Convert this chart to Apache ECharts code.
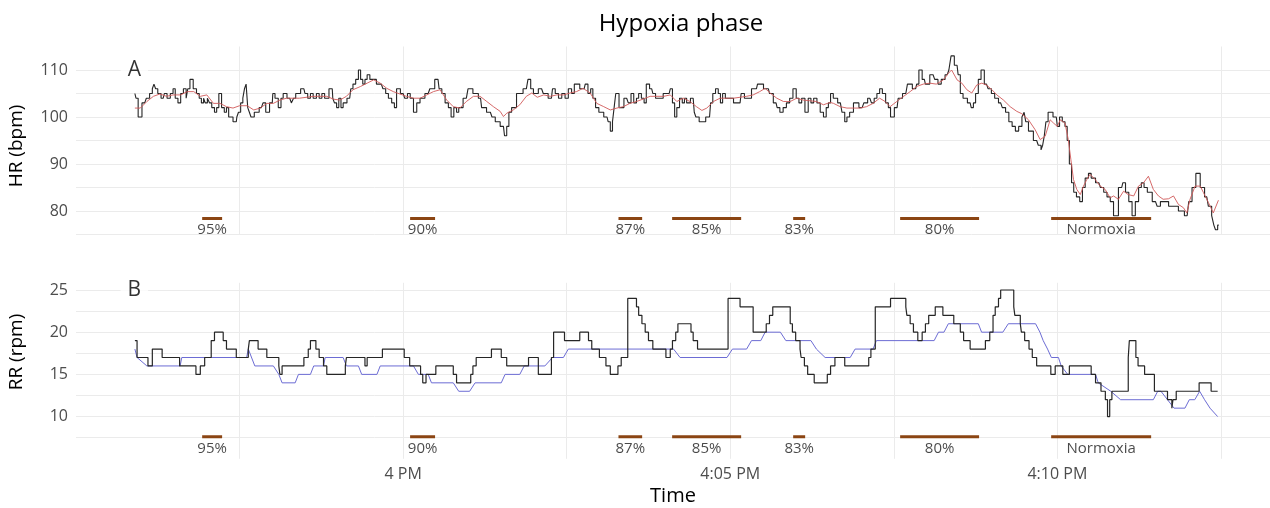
<!DOCTYPE html>
<html><head><meta charset="utf-8">
<script src="https://cdn.jsdelivr.net/npm/echarts@6/dist/echarts.min.js"></script>
<style>html,body{margin:0;padding:0;background:#fff}#c{width:1270px;height:508px}</style>
</head><body><div id="c"></div>
<script>
// time = seconds relative to 4:00 PM
const xTickValues = [0, 300, 600];
const xTickLabels = ['4 PM', '4:05 PM', '4:10 PM'];

const hrRaw = [[-246,105],[-244,104],[-242,100],[-237,103],[-234,104],[-231,105],[-229,106],[-228,107],[-226,106],[-224,105],[-220,104],[-218,105],[-215,104],[-212,105],[-210,106],[-208,104],[-205,103],[-203,105],[-200,106],[-198,104],[-197,106],[-194,108],[-191,106],[-188,105],[-186,104],[-184,103],[-182,104],[-181,103],[-178,104],[-177,103],[-174,102],[-172,101],[-170,102],[-168,105],[-165,102],[-163,101],[-161,102],[-159,100],[-153,99],[-152,100],[-150,101],[-148,103],[-146,104],[-145,106],[-143,107],[-142,102],[-140,101],[-139,100],[-134,101],[-130,102],[-127,103],[-125,101],[-120,103],[-119,105],[-116,104],[-113,102],[-111,104],[-109,105],[-104,104],[-101,103],[-100,104],[-97,105],[-91,106],[-89,105],[-86,104],[-84,105],[-81,104],[-78,105],[-76,104],[-73,105],[-71,104],[-65,106],[-64,104],[-62,103],[-60,102],[-58,104],[-56,102],[-54,103],[-49,104],[-47,106],[-45,107],[-42,108],[-40,110],[-38,108],[-36,107],[-34,108],[-32,109],[-29,108],[-20,107],[-17,106],[-15,105],[-12,104],[-9,103],[-7,102],[-5,106],
[0,105],[3,104],[5,105],[8,104],[11,101],[14,103],[17,104],[23,105],[26,106],[32,108],[34,106],[37,105],[40,103],[43,102],[45,100],[48,102],[50,101],[52,102],[58,104],[61,106],[67,105],[71,104],[73,102],[80,101],[83,100],[86,99],[92,98],[94,96],[96,98],[98,101],[101,102],[107,105],[113,106],[116,108],[118,106],[121,105],[127,106],[130,105],[136,104],[138,106],[141,105],[144,104],[147,105],[150,104],[153,106],[156,105],[158,107],[166,106],[168,107],[171,105],[173,106],[175,104],[178,102],[181,101],[187,100],[189,99],[191,97],[193,99],[194,102],[196,105],[200,102],[205,104],[208,103],[210,105],[213,103],[215,104],[217,105],[220,104],[222,103],[224,107],[228,106],[230,105],[233,104],[244,105],[246,106],[248,103],[250,100],[252,102],[255,104],[257,103],[259,104],[261,103],[266,104],[268,101],[269,100],[274,99],[281,100],[283,103],[285,105],[288,106],[290,105],[292,103],[294,105],[297,104],[309,103],[311,105],[315,104],[324,106],[326,107],[335,106],[337,105],[342,103],[344,102],[347,101],[350,102],[353,103],[356,104],[359,106],[362,104],[364,103],[367,104],[370,101],[373,104],[375,103],[378,104],[381,103],[384,101],[387,100],[389,102],[391,103],
[393,105],[396,104],[401,103],[404,101],[406,99],[408,100],[411,101],[415,103],[421,102],[424,103],[428,104],[431,103],[433,104],[436,105],[438,106],[441,105],[444,103],[446,102],[448,100],[453,102],[455,104],[461,105],[464,107],[470,106],[472,107],[474,110],[478,108],[480,107],[486,109],[489,108],[492,107],[495,108],[499,109],[502,110],[503,113],[508,111],[510,109],[512,105],[515,104],[520,103],[522,102],[524,103],[526,105],[529,108],[531,110],[535,107],[538,106],[541,105],[544,104],[548,103],[551,102],[554,101],[557,99],[560,98],[563,97],[566,98],[569,100],[570,101],[572,99],[575,97],[581,95],[584,94],[586,93],[587,94],[589,96],[590,99],[593,101],[599,100],[601,98],[603,100],[606,99],[608,98],[610,95],[612,90],[614,86],[616,84],[619,83],[622,82],[624,85],[627,87],[630,88],[632,87],[638,86],[641,85],[644,84],[647,83],[650,82],[653,79],[659,85],[661,86],[664,84],[667,82],[670,79],[673,82],[676,85],[678,86],[681,85],[684,84],[690,82],[693,81],[696,82],[708,81],[714,80],[719,79],[722,82],[725,85],[729,88],[733,85],[737,83],[740,81],[743,79],[744,77],[746,76],[748,77]];

const hrSmooth = [[-246,101.9],[-241,101.9],[-235,103.3],[-229,104.4],[-223,104.9],[-217,104.4],[-211,104.7],[-204,104.7],[-198,105.4],[-192,105.4],[-186,104.4],[-180,104.7],[-174,102.9],[-168,102.9],[-162,102.2],[-156,101.9],[-150,102.4],[-143,102.4],[-137,101.5],[-131,101.9],[-125,102.9],[-119,102.9],[-113,103.6],[-107,104],[-95,104],[-82,104.4],[-70,104.4],[-64,103.8],[-58,103.6],[-52,104.4],[-46,105.8],[-39,106.5],[-33,107.2],[-27,107.9],[-21,107.2],[-15,106.1],[-9,105.4],[-3,104.9],[3,104.4],[9.5,104],[15.6,104],[21.7,104.7],[27.8,105.4],[33.9,105.8],[40,103.6],[46,102.2],[52,101.9],[58,103.3],[64.5,104.4],[70.6,104.4],[76.7,103.3],[82.8,102.2],[89,101.2],[92,100.1],[95,100.8],[101,101.5],[107,102.6],[113,104.4],[118,105.1],[123,104.2],[129,104.7],[135,104.4],[141,104.7],[147,104.7],[153,105.1],[159,105.4],[165,106.1],[171.5,105.1],[177.6,102.9],[184,102.2],[190,101.5],[196,101.9],[202,102.2],[208,102.9],[214,103.3],[220,103.8],[226.5,104.4],[239,104.4],[245,104.7],[251,103.3],[257,104],[263,103.3],[269,102.2],[274,101.4],[278.5,101.9],[284.6,103.3],[290.7,104],[303,104],[315,104.4],[321,104.7],[327,105.4],[332,106.1],[336.6,105.1],[342.7,104],[348.8,103.3],[355,103.3],[361,104],[367,103.6],[379,103.3],[385.5,102.6],[391.6,103.1],[394.7,102.9],[400.8,102.2],[407,101.9],[419,101.9],[425,102.2],[431,102.9],[437,104],[442,103.3],[446.6,102.2],[452.7,103.3],[459,104.4],[465,105.4],[471,106.5],[477,107],[483,107.2],[489,107],[495.5,107.9],[500,109.3],[503,110],[508,107.9],[512.4,107.2],[517,105.8],[521.5,105.1],[526,106.8],[530.7,107.2],[535,106.8],[540,105.8],[544.5,104.7],[550.6,103.6],[556.7,102.2],[562.8,101.2],[567.4,100.7],[573.5,99.4],[579.6,97.3],[584.2,95.2],[588.8,95.9],[593.4,99.4],[596.5,98.7],[600,98],[602.6,99.4],[607,98.7],[610,95.2],[612.4,90.9],[614.8,86.7],[617.8,84.6],[621,83.5],[624,85.3],[627,86.7],[630,87.8],[634.7,86.7],[639.3,85.3],[643.8,84.6],[648.4,82.8],[651.5,83.2],[656,82.5],[660.7,84.2],[665,83.5],[670,83.2],[674.4,85.3],[679,86],[683.5,87.4],[688,84.6],[692.7,83.2],[697,82.5],[702,82.6],[706.5,83.2],[711,81.4],[715.6,80.7],[718.7,79.6],[721.7,82.5],[726.3,85.3],[731,85.3],[734,83.9],[738.5,81.8],[743,79.6],[747.7,82.3]];

const rrRaw = [[-246,19],[-244,17],[-234,16],[-230,18],[-221,17],[-205,16],[-190,15],[-186,16],[-182,17],[-176,19],[-173,20],[-165,19],[-162,18],[-153,17],[-142,18],[-141,19],[-133,18],[-125,17],[-114,16],[-113,15],[-111,16],[-91,17],[-87,18],[-85,19],[-80,18],[-77,17],[-73,16],[-70,15],[-53,16],[-52,17],[-35,16],[-33,17],[-19,18],[1,17],[6,16],[16,15],[18,14],[21,15],[30,16],[46,15],[49,14],[62,15],[64,16],[67,17],[81,18],[90,17],[95,16],[115,17],[124,15],[136,17],[138,20],[148,19],[162,20],[170,19],[173,18],[180,17],[186,16],[190,15],[197,16],[200,17],[206,24],[214,23],[216,22],[219,21],[222,20],[225,19],[229,18],[241,17],[245,18],[247,19],[250,20],[252,21],[264,20],[266,19],[270,18],[298,24],[309,23],[321,20],[333,21],[336,22],[339,23],[355,21],[357,20],[360,19],[364,18],[365,17],[368,16],[371,15],[377,14],[389,15],[392,16],[396,17],[405,16],[427,17],[429,18],[433,23],[447,24],[461,23],[462,22],[465,21],[468,20],[472,19],[476,20],[479,21],[482,22],[488,23],[495,22],[505,21],[511,20],[514,19],[520,18],[534,19],[538,20],[541,22],[543,23],[546,24],[548,25],[560,23],[561,22],[566,21],[567,20],[570,19],[574,18],[577,17],[581,16],[594,15],[598,16],[605,15],[611,16],[631,15],[635,14],[640,13],[644,12],[646,10],[648,12],[650,13],[665,17],[666,19],[672,17],[674,16],[680,15],[689,13],[701,12],[705,11],[706,12],[709,13],[730,14],[741,13],[747,13]];

const rrSmooth = [[-246,18],[-244,17],[-235,16],[-204.5,16],[-203,17],[-143.5,17],[-142,18],[-136,16],[-119,16],[-114,15],[-111,14],[-99,14],[-96,15],[-85,15],[-82,16],[-73,16],[-71.5,17],[-55,17],[-52,16],[-41,16],[-38,15],[-24,15],[-21,16],[9.5,16],[14,15],[23,15],[26,14],[46,14],[51,13],[61,13],[66,14],[90,14],[93.5,15],[107,15],[111,16],[130,16],[137,17],[147,17],[151.5,18],[248,18],[254,17],[297,17],[302,18],[315,18],[319.5,19],[328,19],[332,20],[346,20],[351,19],[374,19],[379,18],[387,17],[410,17],[414.5,18],[431,18],[434,19],[487,19],[491,20],[496,20],[500,21],[527.5,21],[530.5,20],[550,20],[555,21],[580,21],[584,20],[587,19],[591,18],[594.5,17],[601,17],[603.5,16],[609.5,15],[635,15],[637.5,14],[649,13],[658,12],[688,12],[692,13],[695,13],[701,12],[707,11],[717,11],[721,12],[726,12],[730.5,13],[735,12],[740,11],[747,10]];

const phaseLabels = ['95%', '90%', '87%', '85%', '83%', '80%', 'Normoxia'];
const phaseStart = [-184.3, 6.4, 197.5, 246.7, 357.7, 455.8, 594.3];
const phaseEnd = [-166, 29.3, 219.2, 310, 368.7, 528.2, 686];
const phaseLevelHR = 78.4;
const phaseLevelRR = 7.6;
const panelLabels = ['A', 'B'];
const panelLabelPos = [[-246.5, 110], [-246.5, 25]];

const FONT = '"Open Sans", "Noto Sans", sans-serif';
const TICK = '#4d4d4d';
const GRID = '#ebebeb';

function xAxisCfg(idx, showLabels) {
  return {
    type: 'value', gridIndex: idx, min: -300, max: 795, interval: 150,
    axisLine: {show: false}, axisTick: {show: false},
    splitLine: {show: true, showMinLine: false, showMaxLine: false, lineStyle: {color: GRID, width: 1}},
    axisLabel: {
      show: showLabels, margin: 8, color: TICK, fontSize: 16, fontFamily: FONT,
      formatter: v => { const i = xTickValues.indexOf(v); return i >= 0 ? xTickLabels[i] : ''; }
    }
  };
}

const series = [];
series.push({type: 'line', xAxisIndex: 0, yAxisIndex: 0, data: hrRaw, step: 'middle', showSymbol: false, silent: true,
  lineStyle: {color: '#262626', width: 1.1}, z: 3});
series.push({type: 'line', xAxisIndex: 0, yAxisIndex: 0, data: hrSmooth, showSymbol: false, silent: true,
  lineStyle: {color: '#d05a5a', width: 1, opacity: 0.9}, z: 4});
series.push({type: 'line', xAxisIndex: 1, yAxisIndex: 1, data: rrSmooth, showSymbol: false, silent: true,
  lineStyle: {color: '#6c6cd4', width: 1}, z: 3});
series.push({type: 'line', xAxisIndex: 1, yAxisIndex: 1, data: rrRaw, step: 'end', showSymbol: false, silent: true,
  lineStyle: {color: '#262626', width: 1.2}, z: 4});

[[0, phaseLevelHR], [1, phaseLevelRR]].forEach(([p, lvl]) => {
  phaseLabels.forEach((lab, i) => {
    series.push({type: 'line', xAxisIndex: p, yAxisIndex: p, showSymbol: false, silent: true,
      data: [[phaseStart[i], lvl], [phaseEnd[i], lvl]],
      lineStyle: {color: '#8b4513', width: 3, cap: 'butt'}, z: 5});
  });
  series.push({type: 'scatter', xAxisIndex: p, yAxisIndex: p, symbolSize: 0, silent: true, z: 6,
    data: phaseLabels.map((lab, i) => ({value: [(phaseStart[i] + phaseEnd[i]) / 2, lvl], name: lab})),
    label: {show: true, position: 'bottom', distance: 4, formatter: q => q.name,
      fontSize: 15, fontFamily: FONT, color: '#1a1a1a'}});
  series.push({type: 'scatter', xAxisIndex: p, yAxisIndex: p, symbolSize: 0, silent: true, z: 7,
    data: [{value: panelLabelPos[p], name: panelLabels[p]}],
    label: {show: true, position: 'inside', formatter: q => q.name, fontSize: 21, fontFamily: FONT,
      color: '#000', backgroundColor: '#fff', padding: [2, 7]}});
});

const option = {
  animation: false,
  backgroundColor: '#fff',
  title: {text: 'Hypoxia phase', left: 676, top: 7, textAlign: 'center',
    textStyle: {fontSize: 24, fontWeight: 'normal', color: '#000', fontFamily: FONT}},
  grid: [
    {left: 76, right: 0, top: 46.5, height: 188, containLabel: false, outerBoundsMode: 'none'},
    {left: 76, right: 0, top: 282.8, height: 176, containLabel: false, outerBoundsMode: 'none'}
  ],
  xAxis: [xAxisCfg(0, false), Object.assign(xAxisCfg(1, true), {
    name: 'Time', nameLocation: 'middle', nameGap: 27,
    nameTextStyle: {fontSize: 20, color: '#000', fontFamily: FONT}})],
  yAxis: [
    {type: 'value', gridIndex: 0, min: 75, max: 115, interval: 5,
      axisLine: {show: false}, axisTick: {show: false},
      splitLine: {show: true, showMaxLine: false, lineStyle: {color: GRID, width: 1}},
      axisLabel: {margin: 8, color: TICK, fontSize: 16, fontFamily: FONT,
        formatter: v => (v % 10 === 0 ? String(v) : '')}},
    {type: 'value', gridIndex: 1, min: 5, max: 25.85, interval: 2.5,
      axisLine: {show: false}, axisTick: {show: false},
      splitLine: {show: true, showMinLine: false, showMaxLine: false, lineStyle: {color: GRID, width: 1}},
      axisLabel: {margin: 8, color: TICK, fontSize: 16, fontFamily: FONT,
        formatter: v => (v % 5 === 0 && v >= 10 ? String(v) : '')}}
  ],
  graphic: [
    {type: 'text', x: 17, y: 146, rotation: Math.PI / 2,
      style: {text: 'HR (bpm)', fontSize: 19, fontFamily: FONT, fill: '#000', align: 'center', verticalAlign: 'middle'}},
    {type: 'text', x: 17, y: 352, rotation: Math.PI / 2,
      style: {text: 'RR (rpm)', fontSize: 19, fontFamily: FONT, fill: '#000', align: 'center', verticalAlign: 'middle'}}
  ],
  series: series
};

const chart = echarts.init(document.getElementById('c'), null, {renderer: 'canvas'});
chart.setOption(option);
</script>
</body></html>
